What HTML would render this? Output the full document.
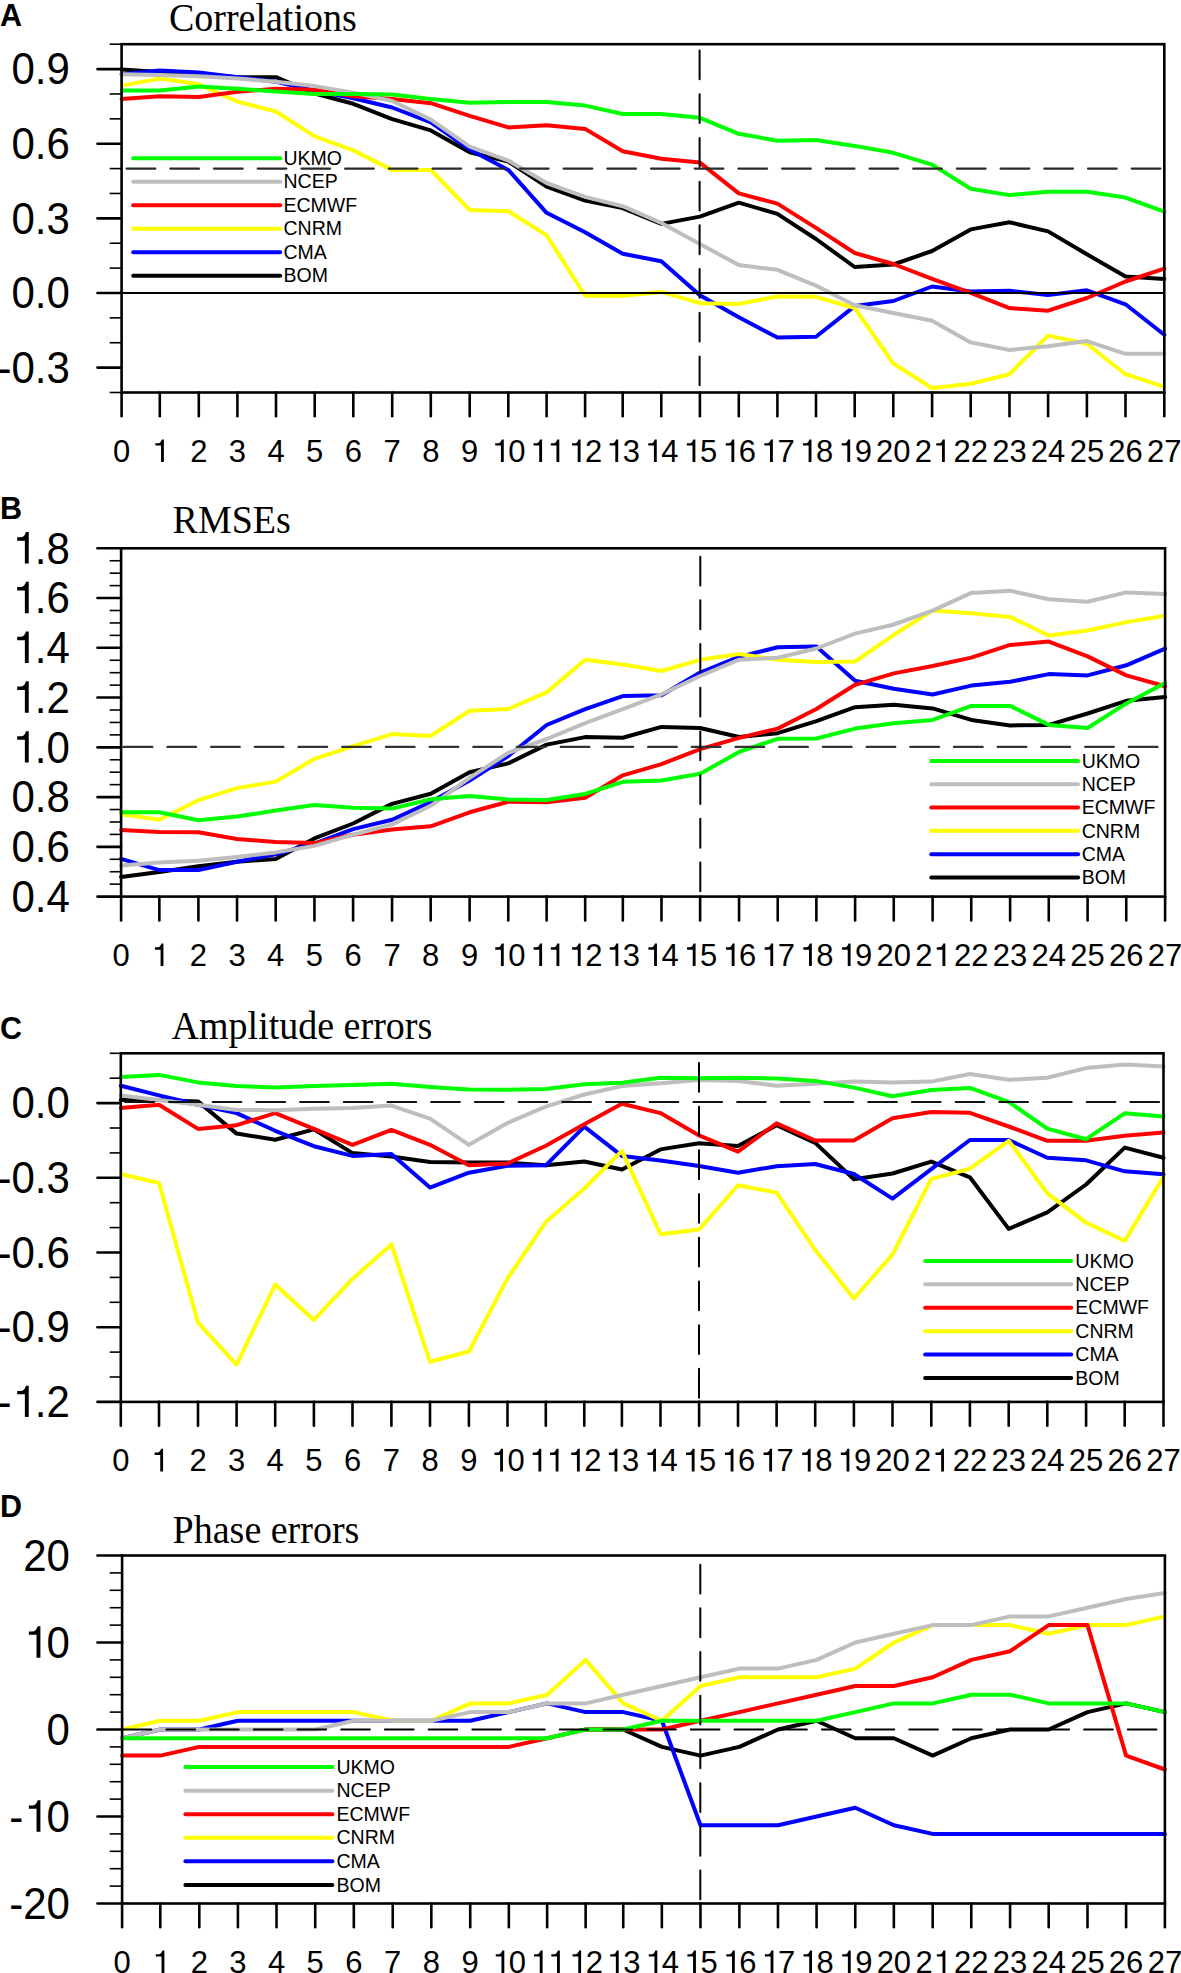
<!DOCTYPE html>
<html><head><meta charset="utf-8"><title>Forecast skill</title><style>html,body{margin:0;padding:0;background:#fff;overflow:hidden;}svg{display:block;}text{font-family:"Liberation Sans",sans-serif;}.serif{font-family:"Liberation Serif",serif;}</style></head><body>
<svg width="1181" height="1973" viewBox="0 0 1181 1973">
<rect width="100%" height="100%" fill="#fff"/>
<text x="0" y="25.5" font-weight="bold" font-size="30.5">A</text>
<g transform="translate(168.9,31.2) scale(1,1.045)"><text class="serif" font-size="38">Correlations</text></g>
<g fill="none" stroke-width="4.0" stroke-linejoin="round" stroke-linecap="round">
<polyline points="121.6,69.6 159.8,71.9 198.8,73.7 237.4,77.2 276.0,77.2 314.7,93.5 353.3,103.8 392.2,119.2 430.8,130.4 469.7,152.2 508.3,161.5 546.6,186.7 585.1,200.6 622.7,208.1 661.3,223.9 699.9,216.6 738.8,202.7 777.4,213.9 816.0,239.0 854.7,267.0 893.3,264.5 932.1,251.0 970.7,229.4 1009.5,222.3 1048.1,231.4 1086.9,254.3 1125.5,276.4 1164.3,278.9" stroke="#000000"/>
<polyline points="121.6,74.2 159.8,70.6 198.8,72.4 237.4,77.2 276.0,81.7 314.7,90.6 353.3,98.2 392.2,107.5 430.8,122.4 469.7,149.4 508.3,169.9 546.6,212.8 585.1,232.3 622.7,253.7 661.3,261.2 699.9,295.2 738.8,317.3 777.4,337.4 816.0,336.8 854.7,306.1 893.3,301.0 932.1,286.5 970.7,291.6 1009.5,290.8 1048.1,294.9 1086.9,290.3 1125.5,304.3 1164.3,334.8" stroke="#0000ff"/>
<polyline points="121.6,85.6 159.8,78.6 198.8,84.3 237.4,101.6 276.0,111.5 314.7,136.4 353.3,150.4 392.2,169.9 430.8,169.9 469.7,210.0 508.3,211.3 546.6,235.1 585.1,295.7 622.7,295.7 661.3,291.9 699.9,303.2 738.8,303.9 777.4,296.4 816.0,296.8 854.7,308.0 893.3,363.5 932.1,388.1 970.7,383.8 1009.5,374.2 1048.1,335.6 1086.9,343.7 1125.5,374.2 1164.3,386.9" stroke="#ffff00"/>
<polyline points="121.6,98.9 159.8,96.3 198.8,97.0 237.4,91.8 276.0,88.8 314.7,89.8 353.3,96.3 392.2,99.1 430.8,103.2 469.7,115.9 508.3,127.4 546.6,125.2 585.1,128.9 622.7,151.3 661.3,158.7 699.9,162.6 738.8,193.4 777.4,203.6 816.0,227.9 854.7,253.0 893.3,264.0 932.1,278.9 970.7,292.9 1009.5,308.1 1048.1,310.7 1086.9,298.0 1125.5,281.5 1164.3,268.7" stroke="#ff0000"/>
<polyline points="121.6,74.2 159.8,74.9 198.8,76.3 237.4,78.6 276.0,81.7 314.7,86.1 353.3,92.6 392.2,101.0 430.8,119.6 469.7,146.6 508.3,160.6 546.6,183.0 585.1,196.9 622.7,206.2 661.3,223.0 699.9,244.0 738.8,265.1 777.4,269.8 816.0,285.6 854.7,305.2 893.3,313.0 932.1,320.8 970.7,342.4 1009.5,350.0 1048.1,346.2 1086.9,341.1 1125.5,353.8 1164.3,353.8" stroke="#bebebe"/>
<polyline points="121.6,90.6 159.8,90.6 198.8,86.6 237.4,88.8 276.0,91.5 314.7,94.1 353.3,94.1 392.2,94.5 430.8,99.1 469.7,102.8 508.3,101.9 546.6,101.9 585.1,105.6 622.7,114.0 661.3,114.0 699.9,117.8 738.8,133.8 777.4,140.7 816.0,139.9 854.7,145.9 893.3,152.8 932.1,164.6 970.7,188.7 1009.5,195.1 1048.1,191.8 1086.9,191.8 1125.5,197.6 1164.3,211.6" stroke="#00ff00"/>
</g>
<line x1="121.6" y1="168.59" x2="1164.3" y2="168.59" stroke="#2a2a2a" stroke-width="2.1" stroke-linecap="round" stroke-dasharray="28.8 14.9" stroke-dashoffset="38.75"/>
<line x1="121.6" y1="292.99" x2="1164.3" y2="292.99" stroke="#000" stroke-width="2"/>
<line x1="699.60" y1="44.2" x2="699.60" y2="390.5" stroke="#000" stroke-width="2" stroke-linecap="round" stroke-dasharray="28.8 14.9" stroke-dashoffset="37.35"/>
<line x1="133.2" y1="158.30" x2="280.2" y2="158.30" stroke="#00ff00" stroke-width="4.0" stroke-linecap="round"/>
<text x="283.5" y="165.00" font-size="19.5">UKMO</text>
<line x1="133.2" y1="181.78" x2="280.2" y2="181.78" stroke="#bebebe" stroke-width="4.0" stroke-linecap="round"/>
<text x="283.5" y="188.48" font-size="19.5">NCEP</text>
<line x1="133.2" y1="205.26" x2="280.2" y2="205.26" stroke="#ff0000" stroke-width="4.0" stroke-linecap="round"/>
<text x="283.5" y="211.96" font-size="19.5">ECMWF</text>
<line x1="133.2" y1="228.74" x2="280.2" y2="228.74" stroke="#ffff00" stroke-width="4.0" stroke-linecap="round"/>
<text x="283.5" y="235.44" font-size="19.5">CNRM</text>
<line x1="133.2" y1="252.22" x2="280.2" y2="252.22" stroke="#0000ff" stroke-width="4.0" stroke-linecap="round"/>
<text x="283.5" y="258.92" font-size="19.5">CMA</text>
<line x1="133.2" y1="275.70" x2="280.2" y2="275.70" stroke="#000000" stroke-width="4.0" stroke-linecap="round"/>
<text x="283.5" y="282.40" font-size="19.5">BOM</text>
<rect x="121.6" y="44.2" width="1042.70" height="348.30" fill="none" stroke="#000" stroke-width="2.6"/>
<line x1="109.7" y1="44.20" x2="121.6" y2="44.20" stroke="#000" stroke-width="1.6"/>
<line x1="97.5" y1="69.08" x2="121.6" y2="69.08" stroke="#000" stroke-width="2.6" stroke-linecap="round"/>
<g transform="translate(11.51,84.28) scale(1,1.05)"><text font-size="42">0.9</text></g>
<line x1="109.7" y1="93.96" x2="121.6" y2="93.96" stroke="#000" stroke-width="1.6"/>
<line x1="109.7" y1="118.84" x2="121.6" y2="118.84" stroke="#000" stroke-width="1.6"/>
<line x1="97.5" y1="143.71" x2="121.6" y2="143.71" stroke="#000" stroke-width="2.6" stroke-linecap="round"/>
<g transform="translate(11.51,158.91) scale(1,1.05)"><text font-size="42">0.6</text></g>
<line x1="109.7" y1="168.59" x2="121.6" y2="168.59" stroke="#000" stroke-width="1.6"/>
<line x1="109.7" y1="193.47" x2="121.6" y2="193.47" stroke="#000" stroke-width="1.6"/>
<line x1="97.5" y1="218.35" x2="121.6" y2="218.35" stroke="#000" stroke-width="2.6" stroke-linecap="round"/>
<g transform="translate(11.51,233.55) scale(1,1.05)"><text font-size="42">0.3</text></g>
<line x1="109.7" y1="243.23" x2="121.6" y2="243.23" stroke="#000" stroke-width="1.6"/>
<line x1="109.7" y1="268.11" x2="121.6" y2="268.11" stroke="#000" stroke-width="1.6"/>
<line x1="97.5" y1="292.99" x2="121.6" y2="292.99" stroke="#000" stroke-width="2.6" stroke-linecap="round"/>
<g transform="translate(11.51,308.19) scale(1,1.05)"><text font-size="42">0.0</text></g>
<line x1="109.7" y1="317.86" x2="121.6" y2="317.86" stroke="#000" stroke-width="1.6"/>
<line x1="109.7" y1="342.74" x2="121.6" y2="342.74" stroke="#000" stroke-width="1.6"/>
<line x1="97.5" y1="367.62" x2="121.6" y2="367.62" stroke="#000" stroke-width="2.6" stroke-linecap="round"/>
<g transform="translate(-2.47,382.82) scale(1,1.05)"><text font-size="42">-0.3</text></g>
<line x1="109.7" y1="392.50" x2="121.6" y2="392.50" stroke="#000" stroke-width="1.6"/>
<line x1="121.60" y1="392.5" x2="121.60" y2="416.30" stroke="#000" stroke-width="2.6" stroke-linecap="round"/>
<g transform="translate(112.98,462.00) scale(1,1.025)"><text font-size="31">0</text></g>
<line x1="159.80" y1="392.5" x2="159.80" y2="416.30" stroke="#000" stroke-width="2.6" stroke-linecap="round"/>
<g transform="translate(151.18,462.00) scale(1,1.025)"><text font-size="31"> </text><path d="M318,0L410,0L410,712L345,712C330,655 290,597 230,594L135,594L135,518L318,518Z" transform="translate(0.00,0) scale(0.0310,-0.0310)"/></g>
<line x1="198.80" y1="392.5" x2="198.80" y2="416.30" stroke="#000" stroke-width="2.6" stroke-linecap="round"/>
<g transform="translate(190.18,462.00) scale(1,1.025)"><text font-size="31">2</text></g>
<line x1="237.40" y1="392.5" x2="237.40" y2="416.30" stroke="#000" stroke-width="2.6" stroke-linecap="round"/>
<g transform="translate(228.78,462.00) scale(1,1.025)"><text font-size="31">3</text></g>
<line x1="276.00" y1="392.5" x2="276.00" y2="416.30" stroke="#000" stroke-width="2.6" stroke-linecap="round"/>
<g transform="translate(267.38,462.00) scale(1,1.025)"><text font-size="31">4</text></g>
<line x1="314.70" y1="392.5" x2="314.70" y2="416.30" stroke="#000" stroke-width="2.6" stroke-linecap="round"/>
<g transform="translate(306.08,462.00) scale(1,1.025)"><text font-size="31">5</text></g>
<line x1="353.30" y1="392.5" x2="353.30" y2="416.30" stroke="#000" stroke-width="2.6" stroke-linecap="round"/>
<g transform="translate(344.68,462.00) scale(1,1.025)"><text font-size="31">6</text></g>
<line x1="392.20" y1="392.5" x2="392.20" y2="416.30" stroke="#000" stroke-width="2.6" stroke-linecap="round"/>
<g transform="translate(383.58,462.00) scale(1,1.025)"><text font-size="31">7</text></g>
<line x1="430.80" y1="392.5" x2="430.80" y2="416.30" stroke="#000" stroke-width="2.6" stroke-linecap="round"/>
<g transform="translate(422.18,462.00) scale(1,1.025)"><text font-size="31">8</text></g>
<line x1="469.70" y1="392.5" x2="469.70" y2="416.30" stroke="#000" stroke-width="2.6" stroke-linecap="round"/>
<g transform="translate(461.08,462.00) scale(1,1.025)"><text font-size="31">9</text></g>
<line x1="508.30" y1="392.5" x2="508.30" y2="416.30" stroke="#000" stroke-width="2.6" stroke-linecap="round"/>
<g transform="translate(491.06,462.00) scale(1,1.025)"><text font-size="31"> 0</text><path d="M318,0L410,0L410,712L345,712C330,655 290,597 230,594L135,594L135,518L318,518Z" transform="translate(0.00,0) scale(0.0310,-0.0310)"/></g>
<line x1="546.60" y1="392.5" x2="546.60" y2="416.30" stroke="#000" stroke-width="2.6" stroke-linecap="round"/>
<g transform="translate(529.36,462.00) scale(1,1.025)"><text font-size="31">  </text><path d="M318,0L410,0L410,712L345,712C330,655 290,597 230,594L135,594L135,518L318,518Z" transform="translate(0.00,0) scale(0.0310,-0.0310)"/><path d="M318,0L410,0L410,712L345,712C330,655 290,597 230,594L135,594L135,518L318,518Z" transform="translate(17.24,0) scale(0.0310,-0.0310)"/></g>
<line x1="585.10" y1="392.5" x2="585.10" y2="416.30" stroke="#000" stroke-width="2.6" stroke-linecap="round"/>
<g transform="translate(567.86,462.00) scale(1,1.025)"><text font-size="31"> 2</text><path d="M318,0L410,0L410,712L345,712C330,655 290,597 230,594L135,594L135,518L318,518Z" transform="translate(0.00,0) scale(0.0310,-0.0310)"/></g>
<line x1="622.70" y1="392.5" x2="622.70" y2="416.30" stroke="#000" stroke-width="2.6" stroke-linecap="round"/>
<g transform="translate(605.46,462.00) scale(1,1.025)"><text font-size="31"> 3</text><path d="M318,0L410,0L410,712L345,712C330,655 290,597 230,594L135,594L135,518L318,518Z" transform="translate(0.00,0) scale(0.0310,-0.0310)"/></g>
<line x1="661.30" y1="392.5" x2="661.30" y2="416.30" stroke="#000" stroke-width="2.6" stroke-linecap="round"/>
<g transform="translate(644.06,462.00) scale(1,1.025)"><text font-size="31"> 4</text><path d="M318,0L410,0L410,712L345,712C330,655 290,597 230,594L135,594L135,518L318,518Z" transform="translate(0.00,0) scale(0.0310,-0.0310)"/></g>
<line x1="699.90" y1="392.5" x2="699.90" y2="416.30" stroke="#000" stroke-width="2.6" stroke-linecap="round"/>
<g transform="translate(682.66,462.00) scale(1,1.025)"><text font-size="31"> 5</text><path d="M318,0L410,0L410,712L345,712C330,655 290,597 230,594L135,594L135,518L318,518Z" transform="translate(0.00,0) scale(0.0310,-0.0310)"/></g>
<line x1="738.80" y1="392.5" x2="738.80" y2="416.30" stroke="#000" stroke-width="2.6" stroke-linecap="round"/>
<g transform="translate(721.56,462.00) scale(1,1.025)"><text font-size="31"> 6</text><path d="M318,0L410,0L410,712L345,712C330,655 290,597 230,594L135,594L135,518L318,518Z" transform="translate(0.00,0) scale(0.0310,-0.0310)"/></g>
<line x1="777.40" y1="392.5" x2="777.40" y2="416.30" stroke="#000" stroke-width="2.6" stroke-linecap="round"/>
<g transform="translate(760.16,462.00) scale(1,1.025)"><text font-size="31"> 7</text><path d="M318,0L410,0L410,712L345,712C330,655 290,597 230,594L135,594L135,518L318,518Z" transform="translate(0.00,0) scale(0.0310,-0.0310)"/></g>
<line x1="816.00" y1="392.5" x2="816.00" y2="416.30" stroke="#000" stroke-width="2.6" stroke-linecap="round"/>
<g transform="translate(798.76,462.00) scale(1,1.025)"><text font-size="31"> 8</text><path d="M318,0L410,0L410,712L345,712C330,655 290,597 230,594L135,594L135,518L318,518Z" transform="translate(0.00,0) scale(0.0310,-0.0310)"/></g>
<line x1="854.70" y1="392.5" x2="854.70" y2="416.30" stroke="#000" stroke-width="2.6" stroke-linecap="round"/>
<g transform="translate(837.46,462.00) scale(1,1.025)"><text font-size="31"> 9</text><path d="M318,0L410,0L410,712L345,712C330,655 290,597 230,594L135,594L135,518L318,518Z" transform="translate(0.00,0) scale(0.0310,-0.0310)"/></g>
<line x1="893.30" y1="392.5" x2="893.30" y2="416.30" stroke="#000" stroke-width="2.6" stroke-linecap="round"/>
<g transform="translate(876.06,462.00) scale(1,1.025)"><text font-size="31">20</text></g>
<line x1="932.10" y1="392.5" x2="932.10" y2="416.30" stroke="#000" stroke-width="2.6" stroke-linecap="round"/>
<g transform="translate(914.86,462.00) scale(1,1.025)"><text font-size="31">2 </text><path d="M318,0L410,0L410,712L345,712C330,655 290,597 230,594L135,594L135,518L318,518Z" transform="translate(17.24,0) scale(0.0310,-0.0310)"/></g>
<line x1="970.70" y1="392.5" x2="970.70" y2="416.30" stroke="#000" stroke-width="2.6" stroke-linecap="round"/>
<g transform="translate(953.46,462.00) scale(1,1.025)"><text font-size="31">22</text></g>
<line x1="1009.50" y1="392.5" x2="1009.50" y2="416.30" stroke="#000" stroke-width="2.6" stroke-linecap="round"/>
<g transform="translate(992.26,462.00) scale(1,1.025)"><text font-size="31">23</text></g>
<line x1="1048.10" y1="392.5" x2="1048.10" y2="416.30" stroke="#000" stroke-width="2.6" stroke-linecap="round"/>
<g transform="translate(1030.86,462.00) scale(1,1.025)"><text font-size="31">24</text></g>
<line x1="1086.90" y1="392.5" x2="1086.90" y2="416.30" stroke="#000" stroke-width="2.6" stroke-linecap="round"/>
<g transform="translate(1069.66,462.00) scale(1,1.025)"><text font-size="31">25</text></g>
<line x1="1125.50" y1="392.5" x2="1125.50" y2="416.30" stroke="#000" stroke-width="2.6" stroke-linecap="round"/>
<g transform="translate(1108.26,462.00) scale(1,1.025)"><text font-size="31">26</text></g>
<line x1="1164.30" y1="392.5" x2="1164.30" y2="416.30" stroke="#000" stroke-width="2.6" stroke-linecap="round"/>
<g transform="translate(1147.06,462.00) scale(1,1.025)"><text font-size="31">27</text></g>
<text x="0" y="518.8" font-weight="bold" font-size="30.5">B</text>
<g transform="translate(172.6,532.7) scale(1,1.045)"><text class="serif" font-size="38">RMSEs</text></g>
<g fill="none" stroke-width="4.0" stroke-linejoin="round" stroke-linecap="round">
<polyline points="121.1,877.0 159.3,871.9 198.4,866.3 237.0,861.7 275.7,858.9 314.4,838.4 353.1,823.5 392.0,803.9 430.7,793.7 469.6,772.3 508.3,763.4 546.6,744.6 585.2,737.1 622.8,737.7 661.5,726.9 700.1,728.0 739.1,737.0 777.7,733.2 816.4,721.1 855.1,707.2 893.8,704.7 932.6,708.4 971.3,719.9 1010.1,725.4 1048.8,724.9 1087.6,713.5 1126.3,700.8 1165.1,697.0" stroke="#000000"/>
<polyline points="121.1,858.9 159.3,870.1 198.4,870.1 237.0,861.7 275.7,854.2 314.4,843.5 353.1,829.1 392.0,819.8 430.7,802.1 469.6,780.6 508.3,756.0 546.6,725.0 585.2,709.2 622.8,696.1 661.5,695.2 700.1,672.6 739.1,656.9 777.7,647.2 816.4,646.6 855.1,680.7 893.8,688.8 932.6,694.5 971.3,685.6 1010.1,681.8 1048.8,674.1 1087.6,675.4 1126.3,665.3 1165.1,648.7" stroke="#0000ff"/>
<polyline points="121.1,814.2 159.3,819.8 198.4,800.2 237.0,788.1 275.7,781.6 314.4,758.8 353.1,746.2 392.0,734.1 430.7,735.9 469.6,710.8 508.3,709.0 546.6,692.4 585.2,659.8 622.8,664.5 661.5,671.0 700.1,659.8 739.1,654.1 777.7,659.7 816.4,662.1 855.1,661.5 893.8,634.8 932.6,610.6 971.3,613.2 1010.1,617.0 1048.8,635.5 1087.6,630.5 1126.3,622.1 1165.1,615.7" stroke="#ffff00"/>
<polyline points="121.1,830.0 159.3,831.9 198.4,832.3 237.0,839.0 275.7,842.1 314.4,843.1 353.1,834.7 392.0,829.6 430.7,826.3 469.6,812.3 508.3,801.7 546.6,802.3 585.2,797.7 622.8,775.3 661.5,764.1 700.1,749.2 739.1,737.9 777.7,728.6 816.4,709.0 855.1,684.8 893.8,673.4 932.6,666.0 971.3,657.6 1010.1,644.9 1048.8,641.6 1087.6,656.4 1126.3,675.4 1165.1,686.3" stroke="#ff0000"/>
<polyline points="121.1,865.4 159.3,862.6 198.4,860.8 237.0,857.0 275.7,852.4 314.4,845.9 353.1,834.7 392.0,824.4 430.7,805.8 469.6,777.9 508.3,752.8 546.6,739.0 585.2,723.1 622.8,709.2 661.5,694.3 700.1,676.0 739.1,659.7 777.7,657.8 816.4,648.5 855.1,633.6 893.8,624.5 932.6,610.6 971.3,592.9 1010.1,590.8 1048.8,599.2 1087.6,601.8 1126.3,592.4 1165.1,594.1" stroke="#bebebe"/>
<polyline points="121.1,812.3 159.3,812.3 198.4,820.3 237.0,816.6 275.7,810.5 314.4,804.9 353.1,807.7 392.0,808.6 430.7,799.3 469.6,796.1 508.3,799.5 546.6,799.9 585.2,793.9 622.8,781.8 661.5,780.5 700.1,773.8 739.1,751.9 777.7,738.8 816.4,738.5 855.1,728.6 893.8,723.3 932.6,719.9 971.3,705.9 1010.1,705.9 1048.8,724.9 1087.6,728.0 1126.3,703.4 1165.1,683.0" stroke="#00ff00"/>
</g>
<line x1="121.1" y1="746.90" x2="1165.1" y2="746.90" stroke="#333" stroke-width="2.1" stroke-linecap="round" stroke-dasharray="28.8 14.9" stroke-dashoffset="41.15"/>
<line x1="700.30" y1="548.3" x2="700.30" y2="894.6" stroke="#000" stroke-width="2" stroke-linecap="round" stroke-dasharray="28.8 14.9" stroke-dashoffset="35.35"/>
<line x1="931.3" y1="760.90" x2="1078.1" y2="760.90" stroke="#00ff00" stroke-width="4.0" stroke-linecap="round"/>
<text x="1081.7" y="767.60" font-size="19.5">UKMO</text>
<line x1="931.3" y1="784.22" x2="1078.1" y2="784.22" stroke="#bebebe" stroke-width="4.0" stroke-linecap="round"/>
<text x="1081.7" y="790.92" font-size="19.5">NCEP</text>
<line x1="931.3" y1="807.54" x2="1078.1" y2="807.54" stroke="#ff0000" stroke-width="4.0" stroke-linecap="round"/>
<text x="1081.7" y="814.24" font-size="19.5">ECMWF</text>
<line x1="931.3" y1="830.86" x2="1078.1" y2="830.86" stroke="#ffff00" stroke-width="4.0" stroke-linecap="round"/>
<text x="1081.7" y="837.56" font-size="19.5">CNRM</text>
<line x1="931.3" y1="854.18" x2="1078.1" y2="854.18" stroke="#0000ff" stroke-width="4.0" stroke-linecap="round"/>
<text x="1081.7" y="860.88" font-size="19.5">CMA</text>
<line x1="931.3" y1="877.50" x2="1078.1" y2="877.50" stroke="#000000" stroke-width="4.0" stroke-linecap="round"/>
<text x="1081.7" y="884.20" font-size="19.5">BOM</text>
<rect x="121.1" y="548.3" width="1044.00" height="348.30" fill="none" stroke="#000" stroke-width="2.6"/>
<line x1="97.5" y1="548.30" x2="121.1" y2="548.30" stroke="#000" stroke-width="2.6" stroke-linecap="round"/>
<g transform="translate(11.51,563.50) scale(1,1.05)"><text font-size="42"> .8</text><path d="M318,0L410,0L410,712L345,712C330,655 290,597 230,594L135,594L135,518L318,518Z" transform="translate(0.00,0) scale(0.0420,-0.0420)"/></g>
<line x1="109.7" y1="560.74" x2="121.1" y2="560.74" stroke="#000" stroke-width="1.6"/>
<line x1="109.7" y1="573.18" x2="121.1" y2="573.18" stroke="#000" stroke-width="1.6"/>
<line x1="109.7" y1="585.62" x2="121.1" y2="585.62" stroke="#000" stroke-width="1.6"/>
<line x1="97.5" y1="598.06" x2="121.1" y2="598.06" stroke="#000" stroke-width="2.6" stroke-linecap="round"/>
<g transform="translate(11.51,613.26) scale(1,1.05)"><text font-size="42"> .6</text><path d="M318,0L410,0L410,712L345,712C330,655 290,597 230,594L135,594L135,518L318,518Z" transform="translate(0.00,0) scale(0.0420,-0.0420)"/></g>
<line x1="109.7" y1="610.50" x2="121.1" y2="610.50" stroke="#000" stroke-width="1.6"/>
<line x1="109.7" y1="622.94" x2="121.1" y2="622.94" stroke="#000" stroke-width="1.6"/>
<line x1="109.7" y1="635.38" x2="121.1" y2="635.38" stroke="#000" stroke-width="1.6"/>
<line x1="97.5" y1="647.81" x2="121.1" y2="647.81" stroke="#000" stroke-width="2.6" stroke-linecap="round"/>
<g transform="translate(11.51,663.01) scale(1,1.05)"><text font-size="42"> .4</text><path d="M318,0L410,0L410,712L345,712C330,655 290,597 230,594L135,594L135,518L318,518Z" transform="translate(0.00,0) scale(0.0420,-0.0420)"/></g>
<line x1="109.7" y1="660.25" x2="121.1" y2="660.25" stroke="#000" stroke-width="1.6"/>
<line x1="109.7" y1="672.69" x2="121.1" y2="672.69" stroke="#000" stroke-width="1.6"/>
<line x1="109.7" y1="685.13" x2="121.1" y2="685.13" stroke="#000" stroke-width="1.6"/>
<line x1="97.5" y1="697.57" x2="121.1" y2="697.57" stroke="#000" stroke-width="2.6" stroke-linecap="round"/>
<g transform="translate(11.51,712.77) scale(1,1.05)"><text font-size="42"> .2</text><path d="M318,0L410,0L410,712L345,712C330,655 290,597 230,594L135,594L135,518L318,518Z" transform="translate(0.00,0) scale(0.0420,-0.0420)"/></g>
<line x1="109.7" y1="710.01" x2="121.1" y2="710.01" stroke="#000" stroke-width="1.6"/>
<line x1="109.7" y1="722.45" x2="121.1" y2="722.45" stroke="#000" stroke-width="1.6"/>
<line x1="109.7" y1="734.89" x2="121.1" y2="734.89" stroke="#000" stroke-width="1.6"/>
<line x1="97.5" y1="747.33" x2="121.1" y2="747.33" stroke="#000" stroke-width="2.6" stroke-linecap="round"/>
<g transform="translate(11.51,762.53) scale(1,1.05)"><text font-size="42"> .0</text><path d="M318,0L410,0L410,712L345,712C330,655 290,597 230,594L135,594L135,518L318,518Z" transform="translate(0.00,0) scale(0.0420,-0.0420)"/></g>
<line x1="109.7" y1="759.77" x2="121.1" y2="759.77" stroke="#000" stroke-width="1.6"/>
<line x1="109.7" y1="772.21" x2="121.1" y2="772.21" stroke="#000" stroke-width="1.6"/>
<line x1="109.7" y1="784.65" x2="121.1" y2="784.65" stroke="#000" stroke-width="1.6"/>
<line x1="97.5" y1="797.09" x2="121.1" y2="797.09" stroke="#000" stroke-width="2.6" stroke-linecap="round"/>
<g transform="translate(11.51,812.29) scale(1,1.05)"><text font-size="42">0.8</text></g>
<line x1="109.7" y1="809.53" x2="121.1" y2="809.53" stroke="#000" stroke-width="1.6"/>
<line x1="109.7" y1="821.96" x2="121.1" y2="821.96" stroke="#000" stroke-width="1.6"/>
<line x1="109.7" y1="834.40" x2="121.1" y2="834.40" stroke="#000" stroke-width="1.6"/>
<line x1="97.5" y1="846.84" x2="121.1" y2="846.84" stroke="#000" stroke-width="2.6" stroke-linecap="round"/>
<g transform="translate(11.51,862.04) scale(1,1.05)"><text font-size="42">0.6</text></g>
<line x1="109.7" y1="859.28" x2="121.1" y2="859.28" stroke="#000" stroke-width="1.6"/>
<line x1="109.7" y1="871.72" x2="121.1" y2="871.72" stroke="#000" stroke-width="1.6"/>
<line x1="109.7" y1="884.16" x2="121.1" y2="884.16" stroke="#000" stroke-width="1.6"/>
<line x1="97.5" y1="896.60" x2="121.1" y2="896.60" stroke="#000" stroke-width="2.6" stroke-linecap="round"/>
<g transform="translate(11.51,911.80) scale(1,1.05)"><text font-size="42">0.4</text></g>
<line x1="121.10" y1="896.6" x2="121.10" y2="920.40" stroke="#000" stroke-width="2.6" stroke-linecap="round"/>
<g transform="translate(112.48,966.10) scale(1,1.025)"><text font-size="31">0</text></g>
<line x1="159.35" y1="896.6" x2="159.35" y2="920.40" stroke="#000" stroke-width="2.6" stroke-linecap="round"/>
<g transform="translate(150.73,966.10) scale(1,1.025)"><text font-size="31"> </text><path d="M318,0L410,0L410,712L345,712C330,655 290,597 230,594L135,594L135,518L318,518Z" transform="translate(0.00,0) scale(0.0310,-0.0310)"/></g>
<line x1="198.40" y1="896.6" x2="198.40" y2="920.40" stroke="#000" stroke-width="2.6" stroke-linecap="round"/>
<g transform="translate(189.78,966.10) scale(1,1.025)"><text font-size="31">2</text></g>
<line x1="237.04" y1="896.6" x2="237.04" y2="920.40" stroke="#000" stroke-width="2.6" stroke-linecap="round"/>
<g transform="translate(228.42,966.10) scale(1,1.025)"><text font-size="31">3</text></g>
<line x1="275.69" y1="896.6" x2="275.69" y2="920.40" stroke="#000" stroke-width="2.6" stroke-linecap="round"/>
<g transform="translate(267.07,966.10) scale(1,1.025)"><text font-size="31">4</text></g>
<line x1="314.44" y1="896.6" x2="314.44" y2="920.40" stroke="#000" stroke-width="2.6" stroke-linecap="round"/>
<g transform="translate(305.82,966.10) scale(1,1.025)"><text font-size="31">5</text></g>
<line x1="353.09" y1="896.6" x2="353.09" y2="920.40" stroke="#000" stroke-width="2.6" stroke-linecap="round"/>
<g transform="translate(344.47,966.10) scale(1,1.025)"><text font-size="31">6</text></g>
<line x1="392.04" y1="896.6" x2="392.04" y2="920.40" stroke="#000" stroke-width="2.6" stroke-linecap="round"/>
<g transform="translate(383.42,966.10) scale(1,1.025)"><text font-size="31">7</text></g>
<line x1="430.69" y1="896.6" x2="430.69" y2="920.40" stroke="#000" stroke-width="2.6" stroke-linecap="round"/>
<g transform="translate(422.06,966.10) scale(1,1.025)"><text font-size="31">8</text></g>
<line x1="469.63" y1="896.6" x2="469.63" y2="920.40" stroke="#000" stroke-width="2.6" stroke-linecap="round"/>
<g transform="translate(461.01,966.10) scale(1,1.025)"><text font-size="31">9</text></g>
<line x1="508.28" y1="896.6" x2="508.28" y2="920.40" stroke="#000" stroke-width="2.6" stroke-linecap="round"/>
<g transform="translate(491.04,966.10) scale(1,1.025)"><text font-size="31"> 0</text><path d="M318,0L410,0L410,712L345,712C330,655 290,597 230,594L135,594L135,518L318,518Z" transform="translate(0.00,0) scale(0.0310,-0.0310)"/></g>
<line x1="546.63" y1="896.6" x2="546.63" y2="920.40" stroke="#000" stroke-width="2.6" stroke-linecap="round"/>
<g transform="translate(529.39,966.10) scale(1,1.025)"><text font-size="31">  </text><path d="M318,0L410,0L410,712L345,712C330,655 290,597 230,594L135,594L135,518L318,518Z" transform="translate(0.00,0) scale(0.0310,-0.0310)"/><path d="M318,0L410,0L410,712L345,712C330,655 290,597 230,594L135,594L135,518L318,518Z" transform="translate(17.24,0) scale(0.0310,-0.0310)"/></g>
<line x1="585.18" y1="896.6" x2="585.18" y2="920.40" stroke="#000" stroke-width="2.6" stroke-linecap="round"/>
<g transform="translate(567.94,966.10) scale(1,1.025)"><text font-size="31"> 2</text><path d="M318,0L410,0L410,712L345,712C330,655 290,597 230,594L135,594L135,518L318,518Z" transform="translate(0.00,0) scale(0.0310,-0.0310)"/></g>
<line x1="622.83" y1="896.6" x2="622.83" y2="920.40" stroke="#000" stroke-width="2.6" stroke-linecap="round"/>
<g transform="translate(605.59,966.10) scale(1,1.025)"><text font-size="31"> 3</text><path d="M318,0L410,0L410,712L345,712C330,655 290,597 230,594L135,594L135,518L318,518Z" transform="translate(0.00,0) scale(0.0310,-0.0310)"/></g>
<line x1="661.47" y1="896.6" x2="661.47" y2="920.40" stroke="#000" stroke-width="2.6" stroke-linecap="round"/>
<g transform="translate(644.23,966.10) scale(1,1.025)"><text font-size="31"> 4</text><path d="M318,0L410,0L410,712L345,712C330,655 290,597 230,594L135,594L135,518L318,518Z" transform="translate(0.00,0) scale(0.0310,-0.0310)"/></g>
<line x1="700.12" y1="896.6" x2="700.12" y2="920.40" stroke="#000" stroke-width="2.6" stroke-linecap="round"/>
<g transform="translate(682.88,966.10) scale(1,1.025)"><text font-size="31"> 5</text><path d="M318,0L410,0L410,712L345,712C330,655 290,597 230,594L135,594L135,518L318,518Z" transform="translate(0.00,0) scale(0.0310,-0.0310)"/></g>
<line x1="739.07" y1="896.6" x2="739.07" y2="920.40" stroke="#000" stroke-width="2.6" stroke-linecap="round"/>
<g transform="translate(721.83,966.10) scale(1,1.025)"><text font-size="31"> 6</text><path d="M318,0L410,0L410,712L345,712C330,655 290,597 230,594L135,594L135,518L318,518Z" transform="translate(0.00,0) scale(0.0310,-0.0310)"/></g>
<line x1="777.72" y1="896.6" x2="777.72" y2="920.40" stroke="#000" stroke-width="2.6" stroke-linecap="round"/>
<g transform="translate(760.48,966.10) scale(1,1.025)"><text font-size="31"> 7</text><path d="M318,0L410,0L410,712L345,712C330,655 290,597 230,594L135,594L135,518L318,518Z" transform="translate(0.00,0) scale(0.0310,-0.0310)"/></g>
<line x1="816.37" y1="896.6" x2="816.37" y2="920.40" stroke="#000" stroke-width="2.6" stroke-linecap="round"/>
<g transform="translate(799.13,966.10) scale(1,1.025)"><text font-size="31"> 8</text><path d="M318,0L410,0L410,712L345,712C330,655 290,597 230,594L135,594L135,518L318,518Z" transform="translate(0.00,0) scale(0.0310,-0.0310)"/></g>
<line x1="855.11" y1="896.6" x2="855.11" y2="920.40" stroke="#000" stroke-width="2.6" stroke-linecap="round"/>
<g transform="translate(837.87,966.10) scale(1,1.025)"><text font-size="31"> 9</text><path d="M318,0L410,0L410,712L345,712C330,655 290,597 230,594L135,594L135,518L318,518Z" transform="translate(0.00,0) scale(0.0310,-0.0310)"/></g>
<line x1="893.76" y1="896.6" x2="893.76" y2="920.40" stroke="#000" stroke-width="2.6" stroke-linecap="round"/>
<g transform="translate(876.52,966.10) scale(1,1.025)"><text font-size="31">20</text></g>
<line x1="932.61" y1="896.6" x2="932.61" y2="920.40" stroke="#000" stroke-width="2.6" stroke-linecap="round"/>
<g transform="translate(915.37,966.10) scale(1,1.025)"><text font-size="31">2 </text><path d="M318,0L410,0L410,712L345,712C330,655 290,597 230,594L135,594L135,518L318,518Z" transform="translate(17.24,0) scale(0.0310,-0.0310)"/></g>
<line x1="971.26" y1="896.6" x2="971.26" y2="920.40" stroke="#000" stroke-width="2.6" stroke-linecap="round"/>
<g transform="translate(954.02,966.10) scale(1,1.025)"><text font-size="31">22</text></g>
<line x1="1010.11" y1="896.6" x2="1010.11" y2="920.40" stroke="#000" stroke-width="2.6" stroke-linecap="round"/>
<g transform="translate(992.87,966.10) scale(1,1.025)"><text font-size="31">23</text></g>
<line x1="1048.76" y1="896.6" x2="1048.76" y2="920.40" stroke="#000" stroke-width="2.6" stroke-linecap="round"/>
<g transform="translate(1031.51,966.10) scale(1,1.025)"><text font-size="31">24</text></g>
<line x1="1087.60" y1="896.6" x2="1087.60" y2="920.40" stroke="#000" stroke-width="2.6" stroke-linecap="round"/>
<g transform="translate(1070.36,966.10) scale(1,1.025)"><text font-size="31">25</text></g>
<line x1="1126.25" y1="896.6" x2="1126.25" y2="920.40" stroke="#000" stroke-width="2.6" stroke-linecap="round"/>
<g transform="translate(1109.01,966.10) scale(1,1.025)"><text font-size="31">26</text></g>
<line x1="1165.10" y1="896.6" x2="1165.10" y2="920.40" stroke="#000" stroke-width="2.6" stroke-linecap="round"/>
<g transform="translate(1147.86,966.10) scale(1,1.025)"><text font-size="31">27</text></g>
<text x="0" y="1038.9" font-weight="bold" font-size="30.5">C</text>
<g transform="translate(171.6,1038.6) scale(1,1.045)"><text class="serif" font-size="38">Amplitude errors</text></g>
<g fill="none" stroke-width="4.0" stroke-linejoin="round" stroke-linecap="round">
<polyline points="120.8,1100.1 159.0,1100.1 198.0,1101.4 236.6,1133.6 275.2,1139.7 313.9,1129.4 352.5,1153.1 391.4,1156.5 430.0,1162.1 468.9,1162.5 507.5,1162.6 545.8,1165.3 584.3,1161.5 621.9,1169.5 660.5,1149.4 699.1,1143.2 738.0,1146.1 776.6,1125.2 815.2,1142.9 853.9,1179.2 892.5,1173.5 931.3,1161.6 969.9,1177.3 1008.7,1228.9 1047.3,1212.4 1086.1,1184.5 1124.7,1147.6 1163.5,1157.8" stroke="#000000"/>
<polyline points="120.8,1085.7 159.0,1095.4 198.0,1104.7 236.6,1113.1 275.2,1130.8 313.9,1146.2 352.5,1155.9 391.4,1154.1 430.0,1187.6 468.9,1172.7 507.5,1165.8 545.8,1165.3 584.3,1126.7 621.9,1155.9 660.5,1160.6 699.1,1166.0 738.0,1172.7 776.6,1166.2 815.2,1164.0 853.9,1174.0 892.5,1198.6 931.3,1169.2 969.9,1140.0 1008.7,1140.0 1047.3,1157.8 1086.1,1160.3 1124.7,1171.3 1163.5,1174.3" stroke="#0000ff"/>
<polyline points="120.8,1174.0 159.0,1183.0 198.0,1322.7 236.6,1364.6 275.2,1284.5 313.9,1319.9 352.5,1278.9 391.4,1244.4 430.0,1361.8 468.9,1351.5 507.5,1278.4 545.8,1222.1 584.3,1188.5 621.9,1150.9 660.5,1234.2 699.1,1229.5 738.0,1185.2 776.6,1192.6 815.2,1250.0 853.9,1298.5 892.5,1254.5 931.3,1178.9 969.9,1168.7 1008.7,1140.8 1047.3,1193.4 1086.1,1222.6 1124.7,1240.9 1163.5,1176.8" stroke="#ffff00"/>
<polyline points="120.8,1108.1 159.0,1104.7 198.0,1128.9 236.6,1125.2 275.2,1113.1 313.9,1128.9 352.5,1144.8 391.4,1129.9 430.0,1144.8 468.9,1165.3 507.5,1163.4 545.8,1145.7 584.3,1124.3 621.9,1103.8 660.5,1113.1 699.1,1135.4 738.0,1151.7 776.6,1123.3 815.2,1140.5 853.9,1140.5 892.5,1118.2 931.3,1112.1 969.9,1112.8 1008.7,1126.5 1047.3,1140.8 1086.1,1140.8 1124.7,1135.7 1163.5,1132.4" stroke="#ff0000"/>
<polyline points="120.8,1095.4 159.0,1100.1 198.0,1104.7 236.6,1109.9 275.2,1110.3 313.9,1108.8 352.5,1108.1 391.4,1105.6 430.0,1118.7 468.9,1144.8 507.5,1123.0 545.8,1106.6 584.3,1094.5 621.9,1086.1 660.5,1083.3 699.1,1080.1 738.0,1080.9 776.6,1085.7 815.2,1083.8 853.9,1081.4 892.5,1082.5 931.3,1081.6 969.9,1074.0 1008.7,1079.8 1047.3,1077.8 1086.1,1068.1 1124.7,1064.6 1163.5,1066.4" stroke="#bebebe"/>
<polyline points="120.8,1077.1 159.0,1074.9 198.0,1082.4 236.6,1086.1 275.2,1087.6 313.9,1085.9 352.5,1085.1 391.4,1083.8 430.0,1087.0 468.9,1089.4 507.5,1089.8 545.8,1088.9 584.3,1084.2 621.9,1082.7 660.5,1077.7 699.1,1078.3 738.0,1077.7 776.6,1078.6 815.2,1080.9 853.9,1087.6 892.5,1096.2 931.3,1090.0 969.9,1087.9 1008.7,1101.9 1047.3,1128.6 1086.1,1139.2 1124.7,1113.3 1163.5,1116.4" stroke="#00ff00"/>
</g>
<line x1="120.8" y1="1102.00" x2="1163.5" y2="1102.00" stroke="#111" stroke-width="1.9" stroke-linecap="round" stroke-dasharray="28.8 14.9" stroke-dashoffset="39.25"/>
<line x1="699.00" y1="1053.3" x2="699.00" y2="1399.9" stroke="#000" stroke-width="2" stroke-linecap="round" stroke-dasharray="28.8 14.9" stroke-dashoffset="34.05"/>
<line x1="925.1" y1="1260.90" x2="1071.2" y2="1260.90" stroke="#00ff00" stroke-width="4.0" stroke-linecap="round"/>
<text x="1075.3" y="1267.60" font-size="19.5">UKMO</text>
<line x1="925.1" y1="1284.32" x2="1071.2" y2="1284.32" stroke="#bebebe" stroke-width="4.0" stroke-linecap="round"/>
<text x="1075.3" y="1291.02" font-size="19.5">NCEP</text>
<line x1="925.1" y1="1307.74" x2="1071.2" y2="1307.74" stroke="#ff0000" stroke-width="4.0" stroke-linecap="round"/>
<text x="1075.3" y="1314.44" font-size="19.5">ECMWF</text>
<line x1="925.1" y1="1331.16" x2="1071.2" y2="1331.16" stroke="#ffff00" stroke-width="4.0" stroke-linecap="round"/>
<text x="1075.3" y="1337.86" font-size="19.5">CNRM</text>
<line x1="925.1" y1="1354.58" x2="1071.2" y2="1354.58" stroke="#0000ff" stroke-width="4.0" stroke-linecap="round"/>
<text x="1075.3" y="1361.28" font-size="19.5">CMA</text>
<line x1="925.1" y1="1378.00" x2="1071.2" y2="1378.00" stroke="#000000" stroke-width="4.0" stroke-linecap="round"/>
<text x="1075.3" y="1384.70" font-size="19.5">BOM</text>
<rect x="120.8" y="1053.3" width="1042.70" height="348.60" fill="none" stroke="#000" stroke-width="2.6"/>
<line x1="109.7" y1="1053.30" x2="120.8" y2="1053.30" stroke="#000" stroke-width="1.6"/>
<line x1="109.7" y1="1078.20" x2="120.8" y2="1078.20" stroke="#000" stroke-width="1.6"/>
<line x1="97.5" y1="1103.10" x2="120.8" y2="1103.10" stroke="#000" stroke-width="2.6" stroke-linecap="round"/>
<g transform="translate(11.51,1118.30) scale(1,1.05)"><text font-size="42">0.0</text></g>
<line x1="109.7" y1="1128.00" x2="120.8" y2="1128.00" stroke="#000" stroke-width="1.6"/>
<line x1="109.7" y1="1152.90" x2="120.8" y2="1152.90" stroke="#000" stroke-width="1.6"/>
<line x1="97.5" y1="1177.80" x2="120.8" y2="1177.80" stroke="#000" stroke-width="2.6" stroke-linecap="round"/>
<g transform="translate(-2.47,1193.00) scale(1,1.05)"><text font-size="42">-0.3</text></g>
<line x1="109.7" y1="1202.70" x2="120.8" y2="1202.70" stroke="#000" stroke-width="1.6"/>
<line x1="109.7" y1="1227.60" x2="120.8" y2="1227.60" stroke="#000" stroke-width="1.6"/>
<line x1="97.5" y1="1252.50" x2="120.8" y2="1252.50" stroke="#000" stroke-width="2.6" stroke-linecap="round"/>
<g transform="translate(-2.47,1267.70) scale(1,1.05)"><text font-size="42">-0.6</text></g>
<line x1="109.7" y1="1277.40" x2="120.8" y2="1277.40" stroke="#000" stroke-width="1.6"/>
<line x1="109.7" y1="1302.30" x2="120.8" y2="1302.30" stroke="#000" stroke-width="1.6"/>
<line x1="97.5" y1="1327.20" x2="120.8" y2="1327.20" stroke="#000" stroke-width="2.6" stroke-linecap="round"/>
<g transform="translate(-2.47,1342.40) scale(1,1.05)"><text font-size="42">-0.9</text></g>
<line x1="109.7" y1="1352.10" x2="120.8" y2="1352.10" stroke="#000" stroke-width="1.6"/>
<line x1="109.7" y1="1377.00" x2="120.8" y2="1377.00" stroke="#000" stroke-width="1.6"/>
<line x1="97.5" y1="1401.90" x2="120.8" y2="1401.90" stroke="#000" stroke-width="2.6" stroke-linecap="round"/>
<g transform="translate(-2.47,1417.10) scale(1,1.05)"><text font-size="42">- .2</text><path d="M318,0L410,0L410,712L345,712C330,655 290,597 230,594L135,594L135,518L318,518Z" transform="translate(13.99,0) scale(0.0420,-0.0420)"/></g>
<line x1="120.80" y1="1401.9" x2="120.80" y2="1425.70" stroke="#000" stroke-width="2.6" stroke-linecap="round"/>
<g transform="translate(112.18,1471.40) scale(1,1.025)"><text font-size="31">0</text></g>
<line x1="159.00" y1="1401.9" x2="159.00" y2="1425.70" stroke="#000" stroke-width="2.6" stroke-linecap="round"/>
<g transform="translate(150.38,1471.40) scale(1,1.025)"><text font-size="31"> </text><path d="M318,0L410,0L410,712L345,712C330,655 290,597 230,594L135,594L135,518L318,518Z" transform="translate(0.00,0) scale(0.0310,-0.0310)"/></g>
<line x1="198.00" y1="1401.9" x2="198.00" y2="1425.70" stroke="#000" stroke-width="2.6" stroke-linecap="round"/>
<g transform="translate(189.38,1471.40) scale(1,1.025)"><text font-size="31">2</text></g>
<line x1="236.60" y1="1401.9" x2="236.60" y2="1425.70" stroke="#000" stroke-width="2.6" stroke-linecap="round"/>
<g transform="translate(227.98,1471.40) scale(1,1.025)"><text font-size="31">3</text></g>
<line x1="275.20" y1="1401.9" x2="275.20" y2="1425.70" stroke="#000" stroke-width="2.6" stroke-linecap="round"/>
<g transform="translate(266.58,1471.40) scale(1,1.025)"><text font-size="31">4</text></g>
<line x1="313.90" y1="1401.9" x2="313.90" y2="1425.70" stroke="#000" stroke-width="2.6" stroke-linecap="round"/>
<g transform="translate(305.28,1471.40) scale(1,1.025)"><text font-size="31">5</text></g>
<line x1="352.50" y1="1401.9" x2="352.50" y2="1425.70" stroke="#000" stroke-width="2.6" stroke-linecap="round"/>
<g transform="translate(343.88,1471.40) scale(1,1.025)"><text font-size="31">6</text></g>
<line x1="391.40" y1="1401.9" x2="391.40" y2="1425.70" stroke="#000" stroke-width="2.6" stroke-linecap="round"/>
<g transform="translate(382.78,1471.40) scale(1,1.025)"><text font-size="31">7</text></g>
<line x1="430.00" y1="1401.9" x2="430.00" y2="1425.70" stroke="#000" stroke-width="2.6" stroke-linecap="round"/>
<g transform="translate(421.38,1471.40) scale(1,1.025)"><text font-size="31">8</text></g>
<line x1="468.90" y1="1401.9" x2="468.90" y2="1425.70" stroke="#000" stroke-width="2.6" stroke-linecap="round"/>
<g transform="translate(460.28,1471.40) scale(1,1.025)"><text font-size="31">9</text></g>
<line x1="507.50" y1="1401.9" x2="507.50" y2="1425.70" stroke="#000" stroke-width="2.6" stroke-linecap="round"/>
<g transform="translate(490.26,1471.40) scale(1,1.025)"><text font-size="31"> 0</text><path d="M318,0L410,0L410,712L345,712C330,655 290,597 230,594L135,594L135,518L318,518Z" transform="translate(0.00,0) scale(0.0310,-0.0310)"/></g>
<line x1="545.80" y1="1401.9" x2="545.80" y2="1425.70" stroke="#000" stroke-width="2.6" stroke-linecap="round"/>
<g transform="translate(528.56,1471.40) scale(1,1.025)"><text font-size="31">  </text><path d="M318,0L410,0L410,712L345,712C330,655 290,597 230,594L135,594L135,518L318,518Z" transform="translate(0.00,0) scale(0.0310,-0.0310)"/><path d="M318,0L410,0L410,712L345,712C330,655 290,597 230,594L135,594L135,518L318,518Z" transform="translate(17.24,0) scale(0.0310,-0.0310)"/></g>
<line x1="584.30" y1="1401.9" x2="584.30" y2="1425.70" stroke="#000" stroke-width="2.6" stroke-linecap="round"/>
<g transform="translate(567.06,1471.40) scale(1,1.025)"><text font-size="31"> 2</text><path d="M318,0L410,0L410,712L345,712C330,655 290,597 230,594L135,594L135,518L318,518Z" transform="translate(0.00,0) scale(0.0310,-0.0310)"/></g>
<line x1="621.90" y1="1401.9" x2="621.90" y2="1425.70" stroke="#000" stroke-width="2.6" stroke-linecap="round"/>
<g transform="translate(604.66,1471.40) scale(1,1.025)"><text font-size="31"> 3</text><path d="M318,0L410,0L410,712L345,712C330,655 290,597 230,594L135,594L135,518L318,518Z" transform="translate(0.00,0) scale(0.0310,-0.0310)"/></g>
<line x1="660.50" y1="1401.9" x2="660.50" y2="1425.70" stroke="#000" stroke-width="2.6" stroke-linecap="round"/>
<g transform="translate(643.26,1471.40) scale(1,1.025)"><text font-size="31"> 4</text><path d="M318,0L410,0L410,712L345,712C330,655 290,597 230,594L135,594L135,518L318,518Z" transform="translate(0.00,0) scale(0.0310,-0.0310)"/></g>
<line x1="699.10" y1="1401.9" x2="699.10" y2="1425.70" stroke="#000" stroke-width="2.6" stroke-linecap="round"/>
<g transform="translate(681.86,1471.40) scale(1,1.025)"><text font-size="31"> 5</text><path d="M318,0L410,0L410,712L345,712C330,655 290,597 230,594L135,594L135,518L318,518Z" transform="translate(0.00,0) scale(0.0310,-0.0310)"/></g>
<line x1="738.00" y1="1401.9" x2="738.00" y2="1425.70" stroke="#000" stroke-width="2.6" stroke-linecap="round"/>
<g transform="translate(720.76,1471.40) scale(1,1.025)"><text font-size="31"> 6</text><path d="M318,0L410,0L410,712L345,712C330,655 290,597 230,594L135,594L135,518L318,518Z" transform="translate(0.00,0) scale(0.0310,-0.0310)"/></g>
<line x1="776.60" y1="1401.9" x2="776.60" y2="1425.70" stroke="#000" stroke-width="2.6" stroke-linecap="round"/>
<g transform="translate(759.36,1471.40) scale(1,1.025)"><text font-size="31"> 7</text><path d="M318,0L410,0L410,712L345,712C330,655 290,597 230,594L135,594L135,518L318,518Z" transform="translate(0.00,0) scale(0.0310,-0.0310)"/></g>
<line x1="815.20" y1="1401.9" x2="815.20" y2="1425.70" stroke="#000" stroke-width="2.6" stroke-linecap="round"/>
<g transform="translate(797.96,1471.40) scale(1,1.025)"><text font-size="31"> 8</text><path d="M318,0L410,0L410,712L345,712C330,655 290,597 230,594L135,594L135,518L318,518Z" transform="translate(0.00,0) scale(0.0310,-0.0310)"/></g>
<line x1="853.90" y1="1401.9" x2="853.90" y2="1425.70" stroke="#000" stroke-width="2.6" stroke-linecap="round"/>
<g transform="translate(836.66,1471.40) scale(1,1.025)"><text font-size="31"> 9</text><path d="M318,0L410,0L410,712L345,712C330,655 290,597 230,594L135,594L135,518L318,518Z" transform="translate(0.00,0) scale(0.0310,-0.0310)"/></g>
<line x1="892.50" y1="1401.9" x2="892.50" y2="1425.70" stroke="#000" stroke-width="2.6" stroke-linecap="round"/>
<g transform="translate(875.26,1471.40) scale(1,1.025)"><text font-size="31">20</text></g>
<line x1="931.30" y1="1401.9" x2="931.30" y2="1425.70" stroke="#000" stroke-width="2.6" stroke-linecap="round"/>
<g transform="translate(914.06,1471.40) scale(1,1.025)"><text font-size="31">2 </text><path d="M318,0L410,0L410,712L345,712C330,655 290,597 230,594L135,594L135,518L318,518Z" transform="translate(17.24,0) scale(0.0310,-0.0310)"/></g>
<line x1="969.90" y1="1401.9" x2="969.90" y2="1425.70" stroke="#000" stroke-width="2.6" stroke-linecap="round"/>
<g transform="translate(952.66,1471.40) scale(1,1.025)"><text font-size="31">22</text></g>
<line x1="1008.70" y1="1401.9" x2="1008.70" y2="1425.70" stroke="#000" stroke-width="2.6" stroke-linecap="round"/>
<g transform="translate(991.46,1471.40) scale(1,1.025)"><text font-size="31">23</text></g>
<line x1="1047.30" y1="1401.9" x2="1047.30" y2="1425.70" stroke="#000" stroke-width="2.6" stroke-linecap="round"/>
<g transform="translate(1030.06,1471.40) scale(1,1.025)"><text font-size="31">24</text></g>
<line x1="1086.10" y1="1401.9" x2="1086.10" y2="1425.70" stroke="#000" stroke-width="2.6" stroke-linecap="round"/>
<g transform="translate(1068.86,1471.40) scale(1,1.025)"><text font-size="31">25</text></g>
<line x1="1124.70" y1="1401.9" x2="1124.70" y2="1425.70" stroke="#000" stroke-width="2.6" stroke-linecap="round"/>
<g transform="translate(1107.46,1471.40) scale(1,1.025)"><text font-size="31">26</text></g>
<line x1="1163.50" y1="1401.9" x2="1163.50" y2="1425.70" stroke="#000" stroke-width="2.6" stroke-linecap="round"/>
<g transform="translate(1146.26,1471.40) scale(1,1.025)"><text font-size="31">27</text></g>
<text x="0" y="1517.1" font-weight="bold" font-size="30.5">D</text>
<g transform="translate(172.6,1543.2) scale(1,1.045)"><text class="serif" font-size="38">Phase errors</text></g>
<g fill="none" stroke-width="4.0" stroke-linejoin="round" stroke-linecap="round">
<polyline points="585.6,1729.5 623.2,1729.5 661.9,1746.9 700.5,1755.6 739.4,1746.9 778.0,1729.5 816.6,1720.8 855.3,1738.2 893.9,1738.2 932.7,1755.6 971.3,1738.2 1010.1,1729.5 1048.7,1729.5 1087.5,1712.1 1126.1,1703.4 1164.9,1712.1" stroke="#000000"/>
<polyline points="122.1,1738.2 160.3,1729.5 199.3,1729.5 237.9,1720.8 276.5,1720.8 315.2,1720.8 353.8,1720.8 392.7,1720.8 431.3,1720.8 470.2,1720.8 508.8,1712.1 547.1,1703.4 585.6,1712.1 623.2,1712.1 661.9,1720.8 700.5,1825.2 739.4,1825.2 778.0,1825.2 816.6,1816.5 855.3,1807.8 893.9,1825.2 932.7,1833.9 971.3,1833.9 1010.1,1833.9 1048.7,1833.9 1087.5,1833.9 1126.1,1833.9 1164.9,1833.9" stroke="#0000ff"/>
<polyline points="122.1,1729.5 160.3,1720.8 199.3,1720.8 237.9,1712.1 276.5,1712.1 315.2,1712.1 353.8,1712.1 392.7,1720.8 431.3,1720.8 470.2,1703.4 508.8,1703.4 547.1,1694.7 585.6,1659.9 623.2,1703.4 661.9,1720.8 700.5,1686.0 739.4,1677.3 778.0,1677.3 816.6,1677.3 855.3,1668.6 893.9,1642.5 932.7,1625.1 971.3,1625.1 1010.1,1625.1 1048.7,1633.8 1087.5,1625.1 1126.1,1625.1 1164.9,1616.4" stroke="#ffff00"/>
<polyline points="122.1,1755.6 160.3,1755.6 199.3,1746.9 237.9,1746.9 276.5,1746.9 315.2,1746.9 353.8,1746.9 392.7,1746.9 431.3,1746.9 470.2,1746.9 508.8,1746.9 547.1,1738.2 585.6,1729.5 623.2,1729.5 661.9,1729.5 700.5,1720.8 739.4,1712.1 778.0,1703.4 816.6,1694.7 855.3,1686.0 893.9,1686.0 932.7,1677.3 971.3,1659.9 1010.1,1651.2 1048.7,1625.1 1087.5,1625.1 1126.1,1755.6 1164.9,1769.5" stroke="#ff0000"/>
<polyline points="122.1,1738.2 160.3,1729.5 199.3,1729.5 237.9,1729.5 276.5,1729.5 315.2,1729.5 353.8,1720.8 392.7,1720.8 431.3,1720.8 470.2,1712.1 508.8,1712.1 547.1,1703.4 585.6,1703.4 623.2,1694.7 661.9,1686.0 700.5,1677.3 739.4,1668.6 778.0,1668.6 816.6,1659.9 855.3,1642.5 893.9,1633.8 932.7,1625.1 971.3,1625.1 1010.1,1616.4 1048.7,1616.4 1087.5,1607.7 1126.1,1599.0 1164.9,1592.9" stroke="#bebebe"/>
<polyline points="122.1,1738.2 160.3,1738.2 199.3,1738.2 237.9,1738.2 276.5,1738.2 315.2,1738.2 353.8,1738.2 392.7,1738.2 431.3,1738.2 470.2,1738.2 508.8,1738.2 547.1,1738.2 585.6,1729.5 623.2,1729.5 661.9,1720.8 700.5,1720.8 739.4,1720.8 778.0,1720.8 816.6,1720.8 855.3,1712.1 893.9,1703.4 932.7,1703.4 971.3,1694.7 1010.1,1694.7 1048.7,1703.4 1087.5,1703.4 1126.1,1703.4 1164.9,1712.1" stroke="#00ff00"/>
</g>
<line x1="122.1" y1="1729.50" x2="1164.8999999999999" y2="1729.50" stroke="#000" stroke-width="1.8" stroke-linecap="round" stroke-dasharray="28.8 14.9" stroke-dashoffset="43.15"/>
<line x1="700.30" y1="1555.5" x2="700.30" y2="1901.5" stroke="#000" stroke-width="2" stroke-linecap="round" stroke-dasharray="28.8 14.9" stroke-dashoffset="34.55"/>
<line x1="185.4" y1="1767.10" x2="332.4" y2="1767.10" stroke="#00ff00" stroke-width="4.0" stroke-linecap="round"/>
<text x="336.5" y="1773.80" font-size="19.5">UKMO</text>
<line x1="185.4" y1="1790.66" x2="332.4" y2="1790.66" stroke="#bebebe" stroke-width="4.0" stroke-linecap="round"/>
<text x="336.5" y="1797.36" font-size="19.5">NCEP</text>
<line x1="185.4" y1="1814.22" x2="332.4" y2="1814.22" stroke="#ff0000" stroke-width="4.0" stroke-linecap="round"/>
<text x="336.5" y="1820.92" font-size="19.5">ECMWF</text>
<line x1="185.4" y1="1837.78" x2="332.4" y2="1837.78" stroke="#ffff00" stroke-width="4.0" stroke-linecap="round"/>
<text x="336.5" y="1844.48" font-size="19.5">CNRM</text>
<line x1="185.4" y1="1861.34" x2="332.4" y2="1861.34" stroke="#0000ff" stroke-width="4.0" stroke-linecap="round"/>
<text x="336.5" y="1868.04" font-size="19.5">CMA</text>
<line x1="185.4" y1="1884.90" x2="332.4" y2="1884.90" stroke="#000000" stroke-width="4.0" stroke-linecap="round"/>
<text x="336.5" y="1891.60" font-size="19.5">BOM</text>
<rect x="122.1" y="1555.5" width="1042.80" height="348.00" fill="none" stroke="#000" stroke-width="2.6"/>
<line x1="97.5" y1="1555.50" x2="122.1" y2="1555.50" stroke="#000" stroke-width="2.6" stroke-linecap="round"/>
<g transform="translate(23.18,1570.70) scale(1,1.05)"><text font-size="42">20</text></g>
<line x1="109.7" y1="1572.90" x2="122.1" y2="1572.90" stroke="#000" stroke-width="1.6"/>
<line x1="109.7" y1="1590.30" x2="122.1" y2="1590.30" stroke="#000" stroke-width="1.6"/>
<line x1="109.7" y1="1607.70" x2="122.1" y2="1607.70" stroke="#000" stroke-width="1.6"/>
<line x1="109.7" y1="1625.10" x2="122.1" y2="1625.10" stroke="#000" stroke-width="1.6"/>
<line x1="97.5" y1="1642.50" x2="122.1" y2="1642.50" stroke="#000" stroke-width="2.6" stroke-linecap="round"/>
<g transform="translate(23.18,1657.70) scale(1,1.05)"><text font-size="42"> 0</text><path d="M318,0L410,0L410,712L345,712C330,655 290,597 230,594L135,594L135,518L318,518Z" transform="translate(0.00,0) scale(0.0420,-0.0420)"/></g>
<line x1="109.7" y1="1659.90" x2="122.1" y2="1659.90" stroke="#000" stroke-width="1.6"/>
<line x1="109.7" y1="1677.30" x2="122.1" y2="1677.30" stroke="#000" stroke-width="1.6"/>
<line x1="109.7" y1="1694.70" x2="122.1" y2="1694.70" stroke="#000" stroke-width="1.6"/>
<line x1="109.7" y1="1712.10" x2="122.1" y2="1712.10" stroke="#000" stroke-width="1.6"/>
<line x1="97.5" y1="1729.50" x2="122.1" y2="1729.50" stroke="#000" stroke-width="2.6" stroke-linecap="round"/>
<g transform="translate(46.54,1744.70) scale(1,1.05)"><text font-size="42">0</text></g>
<line x1="109.7" y1="1746.90" x2="122.1" y2="1746.90" stroke="#000" stroke-width="1.6"/>
<line x1="109.7" y1="1764.30" x2="122.1" y2="1764.30" stroke="#000" stroke-width="1.6"/>
<line x1="109.7" y1="1781.70" x2="122.1" y2="1781.70" stroke="#000" stroke-width="1.6"/>
<line x1="109.7" y1="1799.10" x2="122.1" y2="1799.10" stroke="#000" stroke-width="1.6"/>
<line x1="97.5" y1="1816.50" x2="122.1" y2="1816.50" stroke="#000" stroke-width="2.6" stroke-linecap="round"/>
<g transform="translate(9.20,1831.70) scale(1,1.05)"><text font-size="42">- 0</text><path d="M318,0L410,0L410,712L345,712C330,655 290,597 230,594L135,594L135,518L318,518Z" transform="translate(13.99,0) scale(0.0420,-0.0420)"/></g>
<line x1="109.7" y1="1833.90" x2="122.1" y2="1833.90" stroke="#000" stroke-width="1.6"/>
<line x1="109.7" y1="1851.30" x2="122.1" y2="1851.30" stroke="#000" stroke-width="1.6"/>
<line x1="109.7" y1="1868.70" x2="122.1" y2="1868.70" stroke="#000" stroke-width="1.6"/>
<line x1="109.7" y1="1886.10" x2="122.1" y2="1886.10" stroke="#000" stroke-width="1.6"/>
<line x1="97.5" y1="1903.50" x2="122.1" y2="1903.50" stroke="#000" stroke-width="2.6" stroke-linecap="round"/>
<g transform="translate(9.20,1918.70) scale(1,1.05)"><text font-size="42">-20</text></g>
<line x1="122.10" y1="1903.5" x2="122.10" y2="1927.30" stroke="#000" stroke-width="2.6" stroke-linecap="round"/>
<g transform="translate(113.48,1973.00) scale(1,1.025)"><text font-size="31">0</text></g>
<line x1="160.30" y1="1903.5" x2="160.30" y2="1927.30" stroke="#000" stroke-width="2.6" stroke-linecap="round"/>
<g transform="translate(151.68,1973.00) scale(1,1.025)"><text font-size="31"> </text><path d="M318,0L410,0L410,712L345,712C330,655 290,597 230,594L135,594L135,518L318,518Z" transform="translate(0.00,0) scale(0.0310,-0.0310)"/></g>
<line x1="199.31" y1="1903.5" x2="199.31" y2="1927.30" stroke="#000" stroke-width="2.6" stroke-linecap="round"/>
<g transform="translate(190.69,1973.00) scale(1,1.025)"><text font-size="31">2</text></g>
<line x1="237.91" y1="1903.5" x2="237.91" y2="1927.30" stroke="#000" stroke-width="2.6" stroke-linecap="round"/>
<g transform="translate(229.29,1973.00) scale(1,1.025)"><text font-size="31">3</text></g>
<line x1="276.51" y1="1903.5" x2="276.51" y2="1927.30" stroke="#000" stroke-width="2.6" stroke-linecap="round"/>
<g transform="translate(267.89,1973.00) scale(1,1.025)"><text font-size="31">4</text></g>
<line x1="315.22" y1="1903.5" x2="315.22" y2="1927.30" stroke="#000" stroke-width="2.6" stroke-linecap="round"/>
<g transform="translate(306.60,1973.00) scale(1,1.025)"><text font-size="31">5</text></g>
<line x1="353.82" y1="1903.5" x2="353.82" y2="1927.30" stroke="#000" stroke-width="2.6" stroke-linecap="round"/>
<g transform="translate(345.20,1973.00) scale(1,1.025)"><text font-size="31">6</text></g>
<line x1="392.73" y1="1903.5" x2="392.73" y2="1927.30" stroke="#000" stroke-width="2.6" stroke-linecap="round"/>
<g transform="translate(384.11,1973.00) scale(1,1.025)"><text font-size="31">7</text></g>
<line x1="431.33" y1="1903.5" x2="431.33" y2="1927.30" stroke="#000" stroke-width="2.6" stroke-linecap="round"/>
<g transform="translate(422.71,1973.00) scale(1,1.025)"><text font-size="31">8</text></g>
<line x1="470.23" y1="1903.5" x2="470.23" y2="1927.30" stroke="#000" stroke-width="2.6" stroke-linecap="round"/>
<g transform="translate(461.61,1973.00) scale(1,1.025)"><text font-size="31">9</text></g>
<line x1="508.84" y1="1903.5" x2="508.84" y2="1927.30" stroke="#000" stroke-width="2.6" stroke-linecap="round"/>
<g transform="translate(491.60,1973.00) scale(1,1.025)"><text font-size="31"> 0</text><path d="M318,0L410,0L410,712L345,712C330,655 290,597 230,594L135,594L135,518L318,518Z" transform="translate(0.00,0) scale(0.0310,-0.0310)"/></g>
<line x1="547.14" y1="1903.5" x2="547.14" y2="1927.30" stroke="#000" stroke-width="2.6" stroke-linecap="round"/>
<g transform="translate(529.90,1973.00) scale(1,1.025)"><text font-size="31">  </text><path d="M318,0L410,0L410,712L345,712C330,655 290,597 230,594L135,594L135,518L318,518Z" transform="translate(0.00,0) scale(0.0310,-0.0310)"/><path d="M318,0L410,0L410,712L345,712C330,655 290,597 230,594L135,594L135,518L318,518Z" transform="translate(17.24,0) scale(0.0310,-0.0310)"/></g>
<line x1="585.64" y1="1903.5" x2="585.64" y2="1927.30" stroke="#000" stroke-width="2.6" stroke-linecap="round"/>
<g transform="translate(568.40,1973.00) scale(1,1.025)"><text font-size="31"> 2</text><path d="M318,0L410,0L410,712L345,712C330,655 290,597 230,594L135,594L135,518L318,518Z" transform="translate(0.00,0) scale(0.0310,-0.0310)"/></g>
<line x1="623.25" y1="1903.5" x2="623.25" y2="1927.30" stroke="#000" stroke-width="2.6" stroke-linecap="round"/>
<g transform="translate(606.01,1973.00) scale(1,1.025)"><text font-size="31"> 3</text><path d="M318,0L410,0L410,712L345,712C330,655 290,597 230,594L135,594L135,518L318,518Z" transform="translate(0.00,0) scale(0.0310,-0.0310)"/></g>
<line x1="661.85" y1="1903.5" x2="661.85" y2="1927.30" stroke="#000" stroke-width="2.6" stroke-linecap="round"/>
<g transform="translate(644.61,1973.00) scale(1,1.025)"><text font-size="31"> 4</text><path d="M318,0L410,0L410,712L345,712C330,655 290,597 230,594L135,594L135,518L318,518Z" transform="translate(0.00,0) scale(0.0310,-0.0310)"/></g>
<line x1="700.46" y1="1903.5" x2="700.46" y2="1927.30" stroke="#000" stroke-width="2.6" stroke-linecap="round"/>
<g transform="translate(683.21,1973.00) scale(1,1.025)"><text font-size="31"> 5</text><path d="M318,0L410,0L410,712L345,712C330,655 290,597 230,594L135,594L135,518L318,518Z" transform="translate(0.00,0) scale(0.0310,-0.0310)"/></g>
<line x1="739.36" y1="1903.5" x2="739.36" y2="1927.30" stroke="#000" stroke-width="2.6" stroke-linecap="round"/>
<g transform="translate(722.12,1973.00) scale(1,1.025)"><text font-size="31"> 6</text><path d="M318,0L410,0L410,712L345,712C330,655 290,597 230,594L135,594L135,518L318,518Z" transform="translate(0.00,0) scale(0.0310,-0.0310)"/></g>
<line x1="777.96" y1="1903.5" x2="777.96" y2="1927.30" stroke="#000" stroke-width="2.6" stroke-linecap="round"/>
<g transform="translate(760.72,1973.00) scale(1,1.025)"><text font-size="31"> 7</text><path d="M318,0L410,0L410,712L345,712C330,655 290,597 230,594L135,594L135,518L318,518Z" transform="translate(0.00,0) scale(0.0310,-0.0310)"/></g>
<line x1="816.57" y1="1903.5" x2="816.57" y2="1927.30" stroke="#000" stroke-width="2.6" stroke-linecap="round"/>
<g transform="translate(799.33,1973.00) scale(1,1.025)"><text font-size="31"> 8</text><path d="M318,0L410,0L410,712L345,712C330,655 290,597 230,594L135,594L135,518L318,518Z" transform="translate(0.00,0) scale(0.0310,-0.0310)"/></g>
<line x1="855.27" y1="1903.5" x2="855.27" y2="1927.30" stroke="#000" stroke-width="2.6" stroke-linecap="round"/>
<g transform="translate(838.03,1973.00) scale(1,1.025)"><text font-size="31"> 9</text><path d="M318,0L410,0L410,712L345,712C330,655 290,597 230,594L135,594L135,518L318,518Z" transform="translate(0.00,0) scale(0.0310,-0.0310)"/></g>
<line x1="893.87" y1="1903.5" x2="893.87" y2="1927.30" stroke="#000" stroke-width="2.6" stroke-linecap="round"/>
<g transform="translate(876.63,1973.00) scale(1,1.025)"><text font-size="31">20</text></g>
<line x1="932.68" y1="1903.5" x2="932.68" y2="1927.30" stroke="#000" stroke-width="2.6" stroke-linecap="round"/>
<g transform="translate(915.44,1973.00) scale(1,1.025)"><text font-size="31">2 </text><path d="M318,0L410,0L410,712L345,712C330,655 290,597 230,594L135,594L135,518L318,518Z" transform="translate(17.24,0) scale(0.0310,-0.0310)"/></g>
<line x1="971.28" y1="1903.5" x2="971.28" y2="1927.30" stroke="#000" stroke-width="2.6" stroke-linecap="round"/>
<g transform="translate(954.04,1973.00) scale(1,1.025)"><text font-size="31">22</text></g>
<line x1="1010.09" y1="1903.5" x2="1010.09" y2="1927.30" stroke="#000" stroke-width="2.6" stroke-linecap="round"/>
<g transform="translate(992.84,1973.00) scale(1,1.025)"><text font-size="31">23</text></g>
<line x1="1048.69" y1="1903.5" x2="1048.69" y2="1927.30" stroke="#000" stroke-width="2.6" stroke-linecap="round"/>
<g transform="translate(1031.45,1973.00) scale(1,1.025)"><text font-size="31">24</text></g>
<line x1="1087.49" y1="1903.5" x2="1087.49" y2="1927.30" stroke="#000" stroke-width="2.6" stroke-linecap="round"/>
<g transform="translate(1070.25,1973.00) scale(1,1.025)"><text font-size="31">25</text></g>
<line x1="1126.10" y1="1903.5" x2="1126.10" y2="1927.30" stroke="#000" stroke-width="2.6" stroke-linecap="round"/>
<g transform="translate(1108.86,1973.00) scale(1,1.025)"><text font-size="31">26</text></g>
<line x1="1164.90" y1="1903.5" x2="1164.90" y2="1927.30" stroke="#000" stroke-width="2.6" stroke-linecap="round"/>
<g transform="translate(1147.66,1973.00) scale(1,1.025)"><text font-size="31">27</text></g>
</svg></body></html>
